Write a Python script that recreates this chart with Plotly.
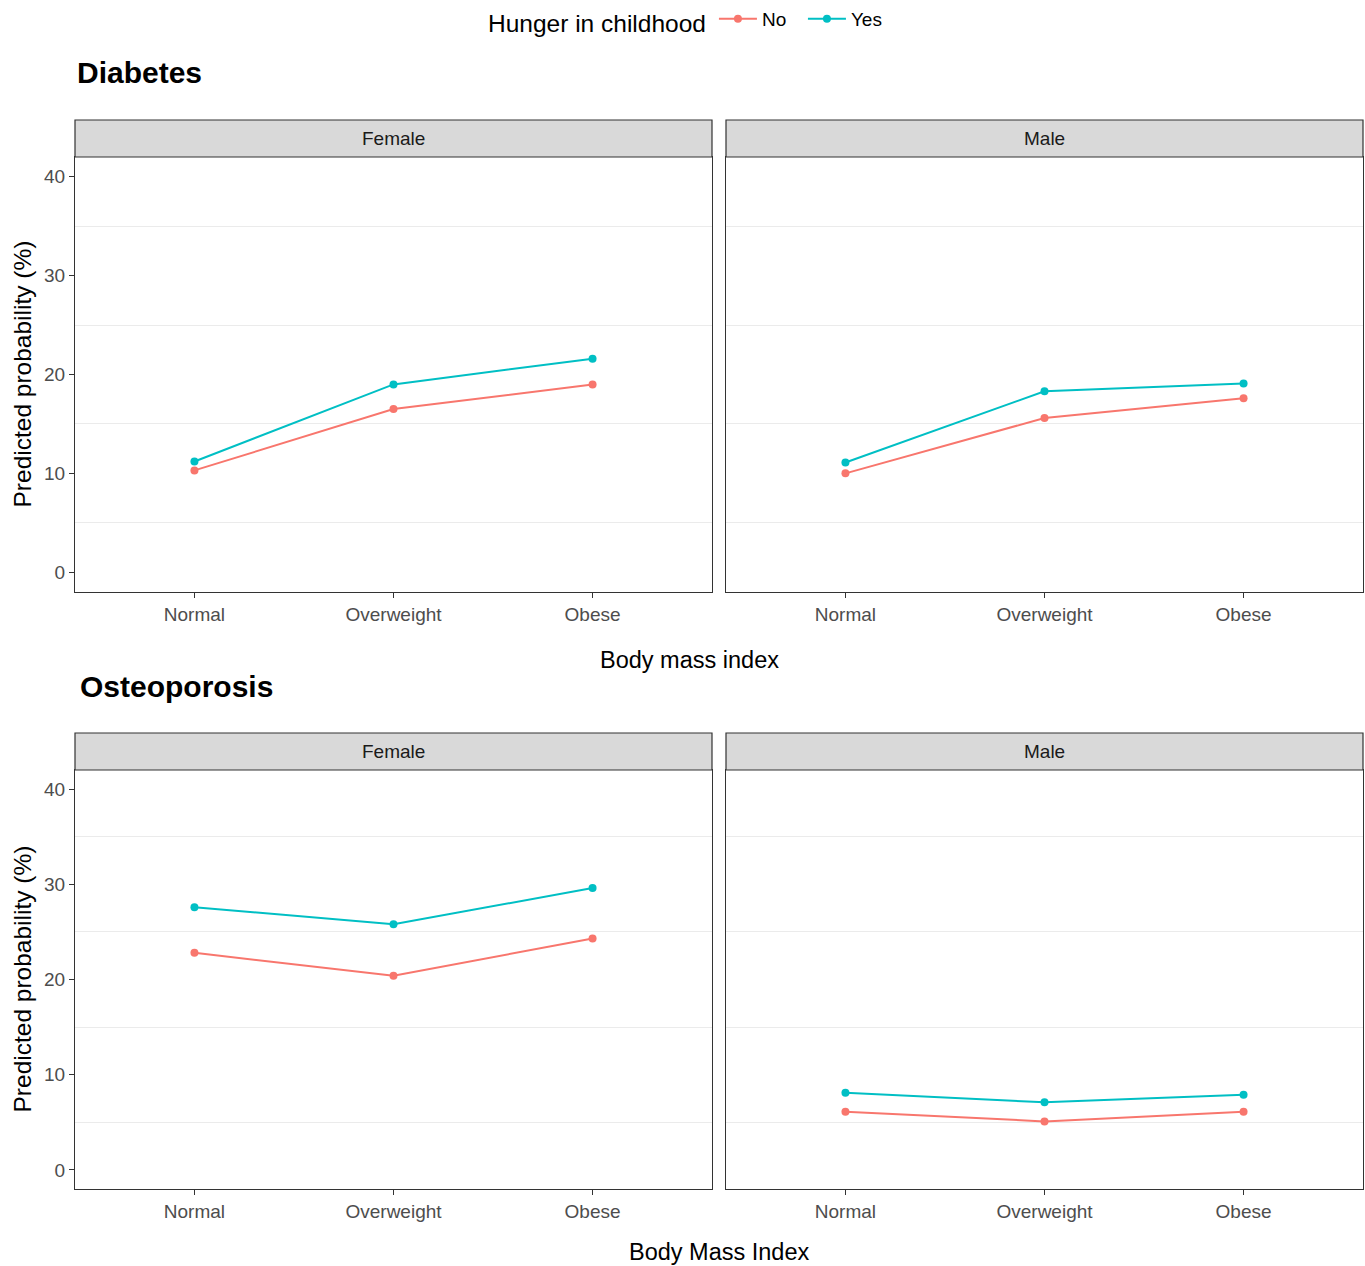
import plotly.graph_objects as go

bmi = ["Normal", "Overweight", "Obese"]
x_pos = [1, 2, 3]

# Diabetes predicted probability (%)
dia_female_no = [10.3, 16.5, 19.0]
dia_female_yes = [11.2, 19.0, 21.6]
dia_male_no = [10.0, 15.6, 17.6]
dia_male_yes = [11.1, 18.3, 19.1]

# Osteoporosis predicted probability (%)
ost_female_no = [22.8, 20.4, 24.3]
ost_female_yes = [27.6, 25.8, 29.6]
ost_male_no = [6.1, 5.1, 6.1]
ost_male_yes = [8.1, 7.1, 7.9]

COL_NO = "#F8766D"
COL_YES = "#00BFC4"
FONT = "Liberation Sans, Arial, sans-serif"
W, H = 1365, 1266


def px_x(p):
    return p / W


def px_y(p):
    return 1 - p / H


panels = [
    ("x", "y", (75, 712), (157, 592), dia_female_no, dia_female_yes, "Female"),
    ("x2", "y2", (726, 1363), (157, 592), dia_male_no, dia_male_yes, "Male"),
    ("x3", "y3", (75, 712), (770, 1189), ost_female_no, ost_female_yes, "Female"),
    ("x4", "y4", (726, 1363), (770, 1189), ost_male_no, ost_male_yes, "Male"),
]

fig = go.Figure()
layout_axes = {}
shapes = []
annotations = []

for i, (xa, ya, xd, yd, no_vals, yes_vals, lab) in enumerate(panels):
    show = i == 0
    left = xd[0] == 75
    fig.add_trace(go.Scatter(x=x_pos, y=no_vals, xaxis=xa, yaxis=ya, mode="lines+markers",
                             name="No", legendgroup="No", showlegend=show,
                             line=dict(color=COL_NO, width=2), marker=dict(size=8, color=COL_NO)))
    fig.add_trace(go.Scatter(x=x_pos, y=yes_vals, xaxis=xa, yaxis=ya, mode="lines+markers",
                             name="Yes", legendgroup="Yes", showlegend=show,
                             line=dict(color=COL_YES, width=2), marker=dict(size=8, color=COL_YES)))
    xkey = "xaxis" + xa[1:]
    ykey = "yaxis" + ya[1:]
    layout_axes[xkey] = dict(
        domain=[px_x(xd[0]), px_x(xd[1])], anchor=ya, range=[0.4, 3.6],
        tickmode="array", tickvals=x_pos, ticktext=bmi,
        showgrid=False, zeroline=False, showline=True, mirror=True,
        linecolor="#333333", linewidth=1.2, ticks="outside", ticklen=5,
        tickcolor="#333333", tickwidth=1.2,
        tickfont=dict(family=FONT, size=19, color="#4d4d4d"),
    )
    layout_axes[ykey] = dict(
        domain=[px_y(yd[1]), px_y(yd[0])], anchor=xa, range=[-2, 42],
        tickmode="array", tickvals=[0, 10, 20, 30, 40],
        showgrid=False, zeroline=False, showline=True, mirror=True,
        linecolor="#333333", linewidth=1.2,
        ticks="outside" if left else "", ticklen=5,
        tickcolor="#333333", tickwidth=1.2,
        showticklabels=left,
        tickfont=dict(family=FONT, size=19, color="#4d4d4d"),
        minor=dict(showgrid=True, tickvals=[5, 15, 25, 35], gridcolor="#ebebeb", gridwidth=1),
    )
    s_top = yd[0] - 37
    shapes.append(dict(type="rect", xref="paper", yref="paper",
                       x0=px_x(xd[0]), x1=px_x(xd[1]), y0=px_y(yd[0]), y1=px_y(s_top),
                       fillcolor="#d9d9d9", line=dict(color="#333333", width=1.2), layer="above"))
    annotations.append(dict(text=lab, xref="paper", yref="paper",
                            x=px_x((xd[0] + xd[1]) / 2), y=px_y((yd[0] + s_top) / 2),
                            showarrow=False, xanchor="center", yanchor="middle",
                            font=dict(family=FONT, size=19, color="#1a1a1a")))

annotations.append(dict(text="<b>Diabetes</b>", xref="paper", yref="paper", x=px_x(75), y=px_y(73),
                        xanchor="left", yanchor="middle", showarrow=False,
                        font=dict(family=FONT, size=30, color="black")))
annotations.append(dict(text="<b>Osteoporosis</b>", xref="paper", yref="paper", x=px_x(78), y=px_y(686),
                        xanchor="left", yanchor="middle", showarrow=False,
                        font=dict(family=FONT, size=30, color="black")))
annotations.append(dict(text="Body mass index", xref="paper", yref="paper", x=px_x(689.5), y=px_y(660),
                        xanchor="center", yanchor="middle", showarrow=False,
                        font=dict(family=FONT, size=23.5, color="black")))
annotations.append(dict(text="Body Mass Index", xref="paper", yref="paper", x=px_x(719), y=px_y(1252),
                        xanchor="center", yanchor="middle", showarrow=False,
                        font=dict(family=FONT, size=23.5, color="black")))
for yc in (374.5, 979.5):
    annotations.append(dict(text="Predicted probability (%)", xref="paper", yref="paper",
                            x=px_x(22), y=px_y(yc), textangle=-90,
                            xanchor="center", yanchor="middle", showarrow=False,
                            font=dict(family=FONT, size=24.5, color="black")))

fig.update_layout(
    width=W, height=H,
    margin=dict(l=0, r=0, t=0, b=0),
    paper_bgcolor="white", plot_bgcolor="white",
    showlegend=True,
    legend=dict(orientation="h", x=px_x(486), xanchor="left", y=px_y(0), yanchor="top",
                title=dict(text="Hunger in childhood", side="left",
                           font=dict(family=FONT, size=24.5, color="black")),
                font=dict(family=FONT, size=19, color="black"),
                itemwidth=38, entrywidth=36, entrywidthmode="pixels",
                bgcolor="rgba(0,0,0,0)"),
    shapes=shapes, annotations=annotations,
    **layout_axes,
)

fig.write_html("out.html", config={"displayModeBar": False},
               post_script="document.body.style.margin='0';document.body.style.overflow='hidden';")
